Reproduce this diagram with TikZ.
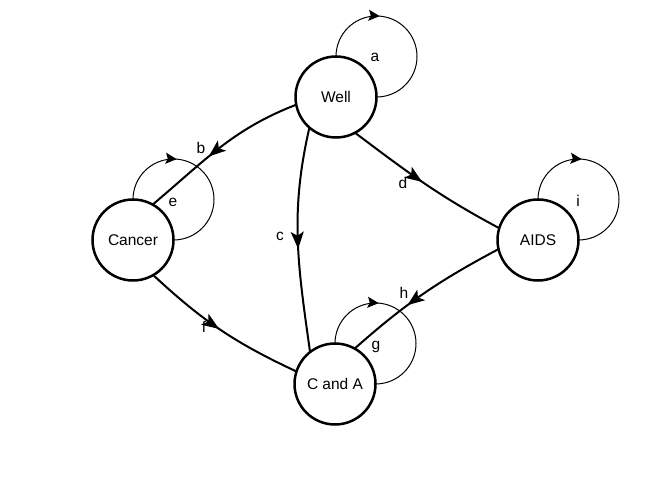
\documentclass[tikz,border=0pt]{standalone}
\usepackage{fontspec}
\setmainfont{Liberation Sans}
\usetikzlibrary{arrows.meta,decorations.markings}
\begin{document}
\begin{tikzpicture}[x=1pt,y=1pt,
  state/.style={circle,draw,line width=2.5pt,minimum size=81pt,inner sep=0pt,outer sep=0pt,font=\fontsize{15.5}{18}\selectfont},
  elabel/.style={font=\fontsize{15.5}{18}\selectfont,inner sep=0pt},
  edgeline/.style={line width=2pt},
  midarrow/.style={postaction={decorate},decoration={markings,mark=at position #1 with {\arrow{Stealth[length=17pt,width=13pt,inset=4pt]}}}},
  loopline/.style={line width=1pt,postaction={decorate},decoration={markings,mark=at position 0.35 with {\arrow{Stealth[length=11pt,width=11pt,inset=2pt]}}}}
]
\useasboundingbox (0,0) rectangle (672,480);

\node[state] (well) at (336,383) {Well};
\node[state] (cancer) at (133,240) {Cancer};
\node[state] (aids) at (538,240) {AIDS};
\node[state] (ca) at (335,96) {C and A};

% self loops
\draw[loopline] (well.north) arc[start angle=180,end angle=-90,radius=40.5];
\draw[loopline] (cancer.north) arc[start angle=180,end angle=-90,radius=40.5];
\draw[loopline] (aids.north) arc[start angle=180,end angle=-90,radius=40.5];
\draw[loopline] (ca.north) arc[start angle=180,end angle=-90,radius=40.5];

% edges
\draw[edgeline,midarrow=0.58] (well.191.6) to[out=201,in=40] (cancer.61.6);
\draw[edgeline,midarrow=0.54] (well.229) to[out=257,in=98] (ca.128.5);
\draw[edgeline,midarrow=0.48] (well.298.5) to[out=323,in=152] (aids.163.7);
\draw[edgeline,midarrow=0.49] (cancer.300) to[out=317,in=155] (ca.162.5);
\draw[edgeline,midarrow=0.61] (aids.193.7) to[out=208,in=41.5] (ca.61);

% labels
\node[elabel] (la) at (375,423) {a};
\node[elabel] (lb) at (201,332) {b};
\node[elabel] (lc) at (280,244) {c};
\node[elabel] (ld) at (403,297) {d};
\node[elabel] (le) at (173,278) {e};
\node[elabel] (lf) at (204,153) {f};
\node[elabel] (lg) at (376,133) {g};
\node[elabel] (lh) at (404,187) {h};
\node[elabel] (li) at (578,279) {i};
\end{tikzpicture}
\end{document}
